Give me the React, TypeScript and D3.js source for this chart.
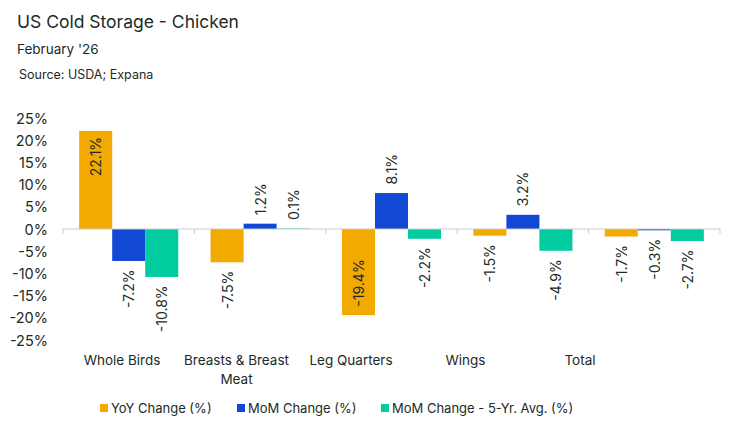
import React from "react";
import * as d3 from "d3";

const categories = ["Whole Birds", "Breasts & Breast Meat", "Leg Quarters", "Wings", "Total"];
const categoryLines = [["Whole Birds"], ["Breasts & Breast", "Meat"], ["Leg Quarters"], ["Wings"], ["Total"]];
const seriesNames = ["YoY Change (%)", "MoM Change (%)", "MoM Change - 5-Yr. Avg. (%)"];
const yoyValues = [22.1, -7.5, -19.4, -1.5, -1.7];
const momValues = [-7.2, 1.2, 8.1, 3.2, -0.3];
const avgValues = [-10.8, 0.1, -2.2, -4.9, -2.7];
const yTicks = [25, 20, 15, 10, 5, 0, -5, -10, -15, -20, -25];
const colors = ["#F2A900", "#1149D4", "#00CC9F"];

const W = 741;
const H = 429;
const TEXT = "#1B2B27";
const FONT = "Inter, 'Noto Sans', sans-serif";

export default function App() {
  const series = [yoyValues, momValues, avgValues];
  const x = d3.scaleBand<string>().domain(categories).range([63, 720]).paddingInner(0).paddingOuter(0);
  const inner = d3
    .scaleBand<number>()
    .domain([0, 1, 2])
    .range([0, x.bandwidth()])
    .paddingOuter(0.49)
    .paddingInner(0);
  const y = d3.scaleLinear().domain([-25, 25]).range([340, 118]);
  const labelX = d3.scalePoint<string>().domain(categories).range([122, 580]);
  const y0 = y(0);
  const charW = 8.6;
  const gap = 8.5;

  const bars: React.ReactNode[] = [];
  const labels: React.ReactNode[] = [];
  categories.forEach((c, ci) => {
    series.forEach((vals, si) => {
      const v = vals[ci];
      const bx = (x(c) as number) + (inner(si) as number);
      const bw = inner.bandwidth();
      const yv = y(v);
      const top = Math.min(yv, y0);
      const h = Math.abs(yv - y0);
      bars.push(
        <rect key={`b${ci}-${si}`} x={bx} y={top} width={bw} height={h} fill={colors[si]} />
      );
      const txt = `${v.toFixed(1)}%`;
      const len = txt.length * charW;
      const cx = bx + bw / 2;
      let ly: number;
      let anchor: "start" | "end";
      if (v >= 0) {
        if (yv - gap - len < y(25)) {
          ly = yv + 6;
          anchor = "end";
        } else {
          ly = yv - gap;
          anchor = "start";
        }
      } else {
        if (yv + gap + len > y(-25)) {
          ly = yv - gap;
          anchor = "start";
        } else {
          ly = yv + gap;
          anchor = "end";
        }
      }
      labels.push(
        <text
          key={`l${ci}-${si}`}
          transform={`translate(${cx},${ly}) rotate(-90)`}
          textAnchor={anchor}
          dominantBaseline="central"
          fontSize={14}
          fill={TEXT}
        >
          {txt}
        </text>
      );
    });
  });

  const boundaries = [...categories.map((c) => x(c) as number), 720];

  const legendX = [100, 237, 381];

  return (
    <div style={{ position: "absolute", left: 0, top: 0 }}>
      <svg width={W} height={H} style={{ display: "block", fontFamily: FONT }}>
        <rect width={W} height={H} fill="#fff" />
        <text x={17} y={27.5} fontSize={17.5} fill={TEXT}>US Cold Storage - Chicken</text>
        <text x={17} y={53.5} fontSize={13.5} fill={TEXT}>February '26</text>
        <text x={19} y={79} fontSize={12.5} fill={TEXT}>Source: USDA; Expana</text>

        {yTicks.map((t) => (
          <text key={t} x={48} y={y(t)} textAnchor="end" dominantBaseline="central" fontSize={14.5} fill={TEXT}>
            {`${t}%`}
          </text>
        ))}

        {bars}

        <line x1={63} x2={720} y1={y0} y2={y0} stroke="#CCCCCC" strokeWidth={1} />
        {boundaries.map((b, i) => (
          <line key={i} x1={b} x2={b} y1={y0} y2={y0 + 5} stroke="#CCCCCC" strokeWidth={1} />
        ))}

        {labels}

        {categories.map((c, ci) => (
          <text key={c} x={labelX(c)} y={365} textAnchor="middle" fontSize={13.5} fill={TEXT}>
            {categoryLines[ci].map((line, li) => (
              <tspan key={li} x={labelX(c)} dy={li === 0 ? 0 : 19}>
                {line}
              </tspan>
            ))}
          </text>
        ))}

        {seriesNames.map((s, si) => (
          <g key={s}>
            <rect x={legendX[si]} y={404} width={8} height={8} fill={colors[si]} />
            <text x={legendX[si] + 11} y={413} fontSize={13} fill={TEXT}>{s}</text>
          </g>
        ))}
      </svg>
    </div>
  );
}
